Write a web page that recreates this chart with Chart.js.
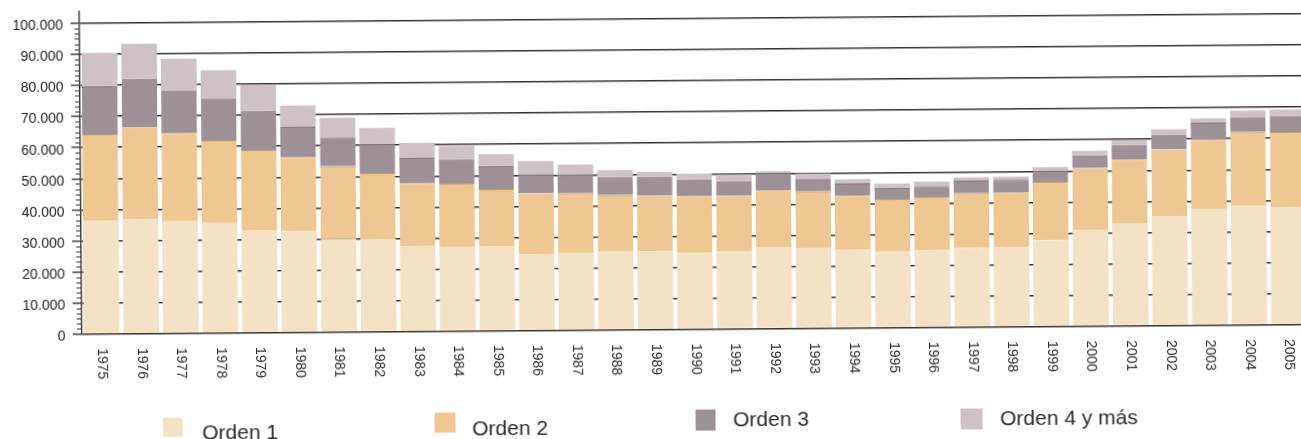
<!DOCTYPE html>
<html>
<head>
<meta charset="utf-8">
<script src="https://cdn.jsdelivr.net/npm/chart.js@4.4.1/dist/chart.umd.min.js"></script>
<style>
  html, body { margin: 0; padding: 0; background: #fff; overflow: hidden; }
  #wrap {
    position: relative;
    width: 1308px;
    height: 439px;
    transform: rotate(-0.45deg);
    transform-origin: 650px 219.5px;
  }
  #legend .box { position: absolute; }
  #legend .txt {
    position: absolute;
    white-space: nowrap;
    font: 21px "Liberation Sans", Arial, sans-serif;
    line-height: 24px;
    color: #2b2b2b;
  }
</style>
</head>
<body>
<div id="wrap">
  <canvas id="chart" width="1308" height="439"></canvas>
  <div id="legend"></div>
</div>
<script>
// data (number of births by birth order)
const years = ["1975", "1976", "1977", "1978", "1979", "1980", "1981", "1982", "1983", "1984",
  "1985", "1986", "1987", "1988", "1989", "1990", "1991", "1992", "1993", "1994",
  "1995", "1996", "1997", "1998", "1999", "2000", "2001", "2002", "2003", "2004", "2005"];

const orden1 = [36300, 36800, 36000, 35300, 33000, 32500, 30000, 29800, 27500, 27200,
  27100, 24600, 24700, 25200, 25100, 24500, 24900, 26000, 25900, 25100,
  24400, 24800, 25400, 25400, 27700, 30800, 32800, 35000, 37300, 38200, 37600];

const orden2 = [27900, 29500, 28500, 26700, 25800, 23900, 23400, 21200, 20200, 20300,
  18500, 19500, 19300, 18200, 18100, 18400, 17900, 18500, 18100, 17500,
  17000, 17200, 17700, 17800, 18800, 20100, 20700, 21700, 22600, 23900, 24400];

const orden3 = [15500, 15700, 13700, 13700, 12600, 9800, 9400, 9300, 8200, 7800,
  7400, 6200, 5900, 5800, 6000, 5300, 4800, 5500, 4300, 3900,
  3500, 3500, 4100, 4200, 3700, 4100, 4700, 4700, 5300, 4900, 5300];

const orden4 = [10800, 11300, 10200, 8900, 8300, 6800, 6200, 5300, 4800, 4300,
  3800, 4200, 3400, 2200, 1500, 1900, 2100, 600, 1500, 1400,
  1500, 1400, 900, 900, 1100, 1400, 1500, 1700, 1400, 2000, 1900];

const seriesNames = ["Orden 1", "Orden 2", "Orden 3", "Orden 4 y más"];
const yTicks = [0, 10000, 20000, 30000, 40000, 50000, 60000, 70000, 80000, 90000, 100000];

const colors = ["#f3e2c3", "#efc792", "#9d9198", "#cec2c9"];
const edgeColors = [null, "#c99f6e", "#877c83", null];
const gridColor = "#383333";
const fontFamily = '"Liberation Sans", Arial, sans-serif';

// legend placement, one per series (left/top of square, text left/top)
const legendPos = [
  { bx: 160.5, by: 414, bw: 20, bh: 19, tx: 200.5, ty: 417 },
  { bx: 432.5, by: 411, bw: 21, bh: 20, tx: 470.5, ty: 414.5 },
  { bx: 693.5, by: 409.5, bw: 20, bh: 21, tx: 731.5, ty: 408 },
  { bx: 958.5, by: 410.5, bw: 22, bh: 21, tx: 998.5, ty: 408.5 },
];

const fmt = (v) => String(v).replace(/\B(?=(\d{3})+(?!\d))/g, ".");

const extras = {
  id: "extras",
  afterDraw(chart) {
    const { ctx } = chart;
    const x = chart.scales.x;
    const y = chart.scales.y;
    ctx.save();

    // small ticks on the y axis between the main ones
    ctx.strokeStyle = gridColor;
    ctx.lineWidth = 1;
    for (let i = 0; i < yTicks.length - 1; i++) {
      for (let k = 1; k < 6; k++) {
        const v = yTicks[i] + ((yTicks[i + 1] - yTicks[i]) * k) / 6;
        const py = Math.round(y.getPixelForValue(v)) + 0.5;
        ctx.beginPath();
        ctx.moveTo(y.right - 5, py);
        ctx.lineTo(y.right, py);
        ctx.stroke();
      }
    }

    // year labels turned a quarter clockwise
    ctx.fillStyle = "#2e2e2e";
    ctx.font = "14px " + fontFamily;
    ctx.textAlign = "left";
    ctx.textBaseline = "middle";
    chart.data.labels.forEach((label, i) => {
      const px = x.getPixelForTick(i);
      ctx.save();
      ctx.translate(px, x.top + 14.5);
      ctx.rotate(Math.PI / 2);
      ctx.fillText(label, 0, 0);
      ctx.restore();
    });

    ctx.restore();
  },
};

const seriesData = [orden1, orden2, orden3, orden4];

const chart = new Chart(document.getElementById("chart"), {
  type: "bar",
  data: {
    labels: years,
    datasets: seriesNames.map((name, i) => ({
      label: name,
      data: seriesData[i],
      backgroundColor: colors[i],
      borderColor: edgeColors[i] || colors[i],
      borderWidth: edgeColors[i] ? { top: 1, right: 0, bottom: 0, left: 0 } : 0,
      barPercentage: 0.9,
      categoryPercentage: 1.0,
    })),
  },
  options: {
    responsive: false,
    animation: false,
    layout: { padding: { top: 6.5, left: 0, right: 0, bottom: 0 } },
    plugins: {
      legend: { display: false },
      tooltip: { enabled: false },
    },
    scales: {
      x: {
        stacked: true,
        grid: { display: false },
        border: { display: false },
        ticks: { display: false },
        afterFit: (s) => {
          s.height = 109.5;
          s.paddingLeft = 0;
          s.paddingRight = 0;
        },
      },
      y: {
        stacked: true,
        min: 0,
        max: 104000,
        z: 1,
        afterBuildTicks: (axis) => {
          axis.ticks = yTicks.map((v) => ({ value: v }));
        },
        afterFit: (s) => {
          s.width = 81;
          s.paddingTop = 0;
          s.paddingBottom = 0;
        },
        grid: { color: gridColor, lineWidth: 1.4, tickLength: 9, tickColor: gridColor },
        border: { color: gridColor, width: 1.4 },
        ticks: {
          padding: 7.5,
          labelOffset: 2.5,
          color: "#222",
          font: { family: fontFamily, size: 14 },
          callback: (v) => fmt(v),
        },
      },
    },
  },
  plugins: [extras],
});

// html legend built from the datasets
const legendEl = document.getElementById("legend");
chart.data.datasets.forEach((ds, i) => {
  const p = legendPos[i];
  const box = document.createElement("div");
  box.className = "box";
  box.style.cssText = `left:${p.bx}px;top:${p.by}px;width:${p.bw}px;height:${p.bh}px;background:${ds.backgroundColor};`;
  const txt = document.createElement("div");
  txt.className = "txt";
  txt.style.cssText = `left:${p.tx}px;top:${p.ty}px;`;
  txt.textContent = ds.label;
  legendEl.appendChild(box);
  legendEl.appendChild(txt);
});
</script>
</body>
</html>
